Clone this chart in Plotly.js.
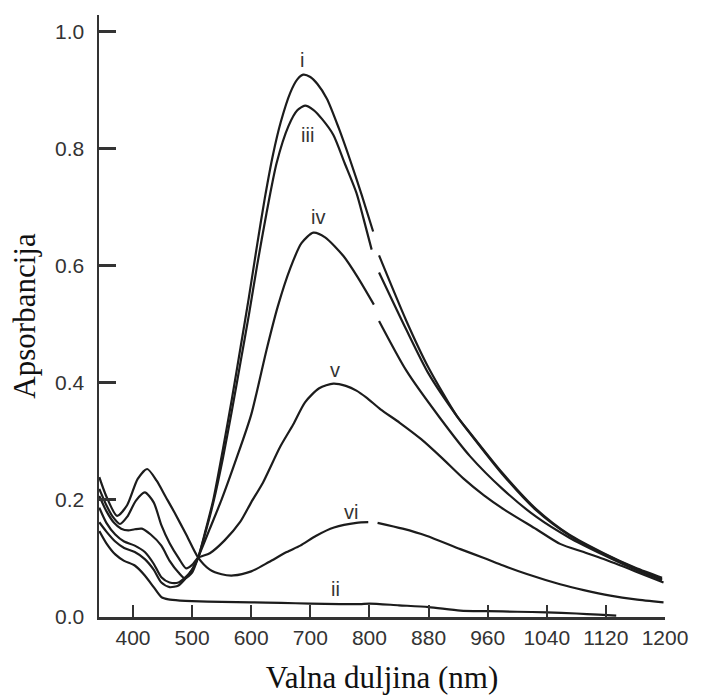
<!DOCTYPE html>
<html>
<head>
<meta charset="utf-8">
<script src="https://cdn.plot.ly/plotly-3.0.1.min.js"></script>
<style>html,body{margin:0;padding:0;background:#fff;}#chart{width:716px;height:696px;}</style>
</head>
<body>
<div id="chart"></div>
<script>
// ---- Data (wavelength in nm, absorbance) ----
var tickLabels = [400, 500, 600, 700, 800, 880, 960, 1040, 1120, 1200];

var wl_i  = [343, 355, 370, 385, 403, 420, 435, 448, 462, 477, 490, 500, 510, 523, 536, 552, 567, 582, 596, 610, 623, 637, 650, 666, 678, 688, 700, 712, 728, 748, 767, 787, 805, 809, 813, 850, 880, 918, 936, 980, 1026, 1070, 1117, 1160, 1196];
var abs_i = [0.161, 0.145, 0.128, 0.117, 0.110, 0.098, 0.080, 0.058, 0.050, 0.053, 0.066, 0.080, 0.100, 0.148, 0.200, 0.285, 0.370, 0.460, 0.545, 0.635, 0.715, 0.790, 0.845, 0.895, 0.918, 0.926, 0.922, 0.910, 0.885, 0.835, 0.781, 0.720, 0.658, null, 0.617, 0.505, 0.425, 0.343, 0.314, 0.245, 0.183, 0.140, 0.108, 0.083, 0.066];

var wl_ii  = [343, 355, 370, 385, 403, 420, 435, 448, 460, 480, 500, 550, 600, 650, 700, 750, 784, 800, 840, 880, 923, 960, 1000, 1040, 1080, 1110, 1134];
var abs_ii = [0.146, 0.125, 0.106, 0.095, 0.087, 0.070, 0.050, 0.033, 0.029, 0.027, 0.026, 0.025, 0.024, 0.023, 0.022, 0.021, 0.021, 0.022, 0.019, 0.016, 0.010, 0.009, 0.008, 0.007, 0.005, 0.003, 0.0015];

var wl_iii  = [343, 355, 370, 385, 403, 420, 435, 448, 462, 477, 490, 500, 510, 523, 536, 552, 567, 582, 596, 610, 626, 643, 663, 678, 691, 705, 720, 739, 758, 778, 790, 803, 808, 813, 850, 880, 918, 936, 980, 1026, 1070, 1117, 1160, 1196];
var abs_iii = [0.186, 0.160, 0.140, 0.128, 0.121, 0.110, 0.090, 0.067, 0.058, 0.058, 0.068, 0.080, 0.100, 0.145, 0.195, 0.270, 0.350, 0.435, 0.515, 0.600, 0.690, 0.775, 0.838, 0.865, 0.873, 0.866, 0.850, 0.823, 0.775, 0.724, 0.680, 0.627, null, 0.588, 0.490, 0.415, 0.343, 0.313, 0.243, 0.181, 0.139, 0.107, 0.082, 0.064];

var wl_iv  = [343, 355, 368, 380, 392, 403, 415, 430, 448, 462, 477, 488, 500, 510, 530, 550, 575, 600, 626, 645, 666, 685, 705, 725, 756, 780, 806, 809, 813, 850, 895, 936, 980, 1026, 1070, 1117, 1160, 1196];
var abs_iv = [0.206, 0.180, 0.160, 0.150, 0.147, 0.149, 0.150, 0.140, 0.121, 0.095, 0.075, 0.065, 0.075, 0.100, 0.150, 0.200, 0.270, 0.345, 0.456, 0.530, 0.595, 0.638, 0.656, 0.648, 0.616, 0.580, 0.533, null, 0.505, 0.420, 0.340, 0.274, 0.218, 0.170, 0.135, 0.105, 0.080, 0.062];

var wl_v  = [343, 355, 366, 378, 390, 405, 420, 435, 448, 462, 477, 490, 500, 510, 530, 555, 581, 600, 620, 649, 671, 691, 715, 739, 760, 778, 795, 815, 841, 870, 898, 927, 955, 982, 1026, 1058, 1090, 1117, 1160, 1198];
var abs_v = [0.218, 0.190, 0.170, 0.158, 0.170, 0.198, 0.212, 0.195, 0.156, 0.125, 0.100, 0.082, 0.088, 0.100, 0.108, 0.130, 0.161, 0.195, 0.229, 0.290, 0.328, 0.366, 0.390, 0.398, 0.394, 0.386, 0.374, 0.354, 0.331, 0.303, 0.271, 0.236, 0.207, 0.183, 0.149, 0.124, 0.110, 0.098, 0.077, 0.058];

var wl_vi  = [343, 355, 373, 390, 408, 424, 440, 455, 470, 490, 510, 530, 550, 570, 600, 630, 660, 683, 710, 740, 778, 798, 805, 811, 845, 877, 923, 955, 981, 1013, 1058, 1090, 1126, 1160, 1198];
var abs_vi = [0.238, 0.205, 0.172, 0.190, 0.235, 0.252, 0.232, 0.205, 0.178, 0.140, 0.101, 0.080, 0.072, 0.070, 0.077, 0.093, 0.110, 0.121, 0.138, 0.152, 0.160, 0.161, null, 0.160, 0.150, 0.138, 0.115, 0.100, 0.087, 0.0725, 0.055, 0.045, 0.0355, 0.029, 0.024];

var curveNames = ['i', 'ii', 'iii', 'iv', 'v', 'vi'];

// ---- Axis mapping: the instrument axis has 100 nm steps up to 800 nm and 80 nm steps above ----
function pos(w) {
  if (w === null) return null;
  return w <= 800 ? (w - 400) / 100 : 4 + (w - 800) / 80;
}

var series = [
  [wl_i, abs_i], [wl_ii, abs_ii], [wl_iii, abs_iii],
  [wl_iv, abs_iv], [wl_v, abs_v], [wl_vi, abs_vi]
];

var traces = series.map(function (s, k) {
  return {
    x: s[0].map(pos),
    y: s[1],
    name: curveNames[k],
    type: 'scatter',
    mode: 'lines',
    connectgaps: false,
    line: {color: '#1c1c1c', width: 2.2, shape: 'spline', smoothing: 0.7},
    hoverinfo: 'x+y+name'
  };
});

var labelFont = {family: 'Liberation Sans', size: 20, color: '#333'};
var labelSpots = [
  ['i', 686, 0.951], ['iii', 696, 0.823], ['iv', 713, 0.682],
  ['v', 742, 0.422], ['vi', 769, 0.178], ['ii', 742, 0.047]
];
var annotations = labelSpots.map(function (a) {
  return {x: pos(a[1]), y: a[2], xref: 'x', yref: 'y', text: a[0], showarrow: false,
          font: labelFont, xanchor: 'center', yanchor: 'middle'};
});

var tickFont = {family: 'Liberation Sans', size: 21, color: '#333'};
var titleFont = {family: 'Times New Roman, Liberation Serif, DejaVu Serif, serif', size: 31, color: '#111'};

var layout = {
  width: 716, height: 696,
  margin: {l: 99, r: 51, t: 15, b: 79},
  paper_bgcolor: '#fff', plot_bgcolor: '#fff',
  showlegend: false,
  font: {family: 'Liberation Sans'},
  xaxis: {
    range: [-0.575, 9.0],
    tickvals: tickLabels.map(pos),
    ticktext: tickLabels.map(String),
    ticks: 'inside', ticklen: 12, tickwidth: 2, tickcolor: '#333',
    showline: true, linecolor: '#333', linewidth: 2.5,
    showgrid: false, zeroline: false,
    tickfont: tickFont,
    ticklabelstandoff: 0,
    title: {text: 'Valna duljina (nm)', font: titleFont, standoff: 19}
  },
  yaxis: {
    range: [-0.001, 1.028],
    tickvals: [0, 0.2, 0.4, 0.6, 0.8, 1.0],
    tickformat: '.1f',
    ticks: 'inside', ticklen: 17, tickwidth: 2.5, tickcolor: '#333',
    showline: true, linecolor: '#333', linewidth: 2.5,
    showgrid: false, zeroline: false,
    tickfont: tickFont,
    ticklabelstandoff: 8,
    title: {text: 'Apsorbancija', font: titleFont, standoff: 10}
  },
  annotations: annotations
};

Plotly.newPlot('chart', traces, layout, {displayModeBar: false, staticPlot: true});
</script>
</body>
</html>
